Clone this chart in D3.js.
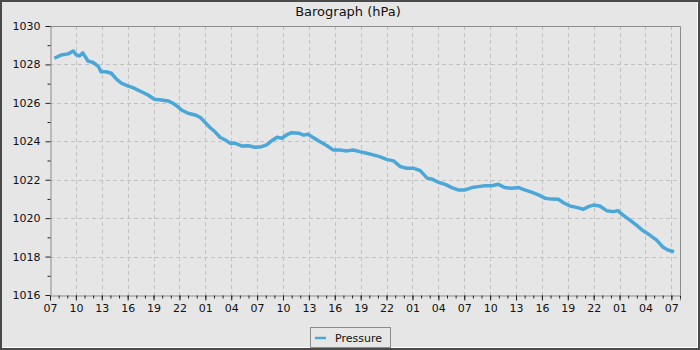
<!DOCTYPE html>
<html>
<head>
<meta charset="utf-8">
<script src="https://cdn.jsdelivr.net/npm/d3@7"></script>
<style>
  body { margin: 0; background: #e6e6e6; }
  svg { display: block; font-family: "DejaVu Sans", sans-serif; }
</style>
</head>
<body>
<div id="chart"></div>
<script>
// hours since the first 07:00 on the time axis
const hours = [0.5, 1.3, 2.1, 2.7, 3.05, 3.4, 3.8, 4.4, 5.0, 5.6, 5.9, 6.5, 7.1, 7.7, 8.3, 9.0, 9.6, 10.6, 11.35, 12.1, 12.9, 13.7, 14.25, 14.8,
  15.25, 16.0, 16.8, 17.4, 18.0, 18.5, 19.1, 19.7, 20.3, 20.9, 21.4, 22.2, 23.0, 23.75, 24.5, 25.1, 25.7, 26.3, 26.85, 27.4, 28.0, 28.8,
  29.4, 29.9, 30.5, 31.3, 32.1, 32.8, 33.6, 34.4, 35.1, 35.9, 36.7, 37.45, 38.2, 39.0, 39.8, 40.6, 41.35, 42.1, 42.9, 43.7,
  44.2, 45.0, 45.8, 46.55, 47.3, 48.1, 48.9, 49.6, 50.4, 51.2, 51.95, 52.7, 53.5, 54.3, 55.0, 55.8, 56.6, 57.4, 58.1,
  58.9, 59.5, 60.25, 61.0, 61.8, 62.4, 62.95, 63.7, 64.5, 65.3, 65.8, 66.4, 67.2, 67.95, 68.7, 69.5, 70.3, 71.05, 71.6, 72.3];
const pressure = [1028.32, 1028.49, 1028.55, 1028.7, 1028.5, 1028.44, 1028.6, 1028.18, 1028.1, 1027.9, 1027.62, 1027.62, 1027.54, 1027.23, 1027.02, 1026.88, 1026.79, 1026.58, 1026.41, 1026.19, 1026.15, 1026.1, 1025.98, 1025.8,
  1025.63, 1025.46, 1025.37, 1025.25, 1024.97, 1024.73, 1024.5, 1024.21, 1024.07, 1023.9, 1023.9, 1023.76, 1023.77, 1023.69, 1023.72, 1023.81, 1024.03, 1024.21, 1024.16, 1024.33, 1024.45, 1024.42,
  1024.32, 1024.37, 1024.19, 1023.98, 1023.77, 1023.55, 1023.55, 1023.5, 1023.55, 1023.46, 1023.38, 1023.29, 1023.2, 1023.06, 1022.98, 1022.68, 1022.6, 1022.6, 1022.47, 1022.08,
  1022.04, 1021.87, 1021.76, 1021.59, 1021.47, 1021.47, 1021.59, 1021.64, 1021.69, 1021.69, 1021.76, 1021.59, 1021.55, 1021.59, 1021.47, 1021.35, 1021.21, 1021.03, 1020.99,
  1020.98, 1020.8, 1020.63, 1020.56, 1020.46, 1020.6, 1020.68, 1020.63, 1020.39, 1020.34, 1020.39, 1020.16, 1019.9, 1019.64, 1019.35, 1019.12, 1018.86, 1018.48, 1018.34, 1018.25];
const yTicks = [1016, 1018, 1020, 1022, 1024, 1026, 1028, 1030];
const xTickHours = d3.range(0, 73, 3);   // labelled every 3 h: 07, 10, 13 ...
const chartTitle = 'Barograph (hPa)';
const seriesName = 'Pressure';

const W = 700, H = 350;
const margin = { top: 26, right: 20, bottom: 55, left: 50 };
const start = new Date(2024, 0, 1, 7, 0);
const end = d3.timeHour.offset(start, 73);

const svg = d3.select('#chart').append('svg')
  .attr('width', W)
  .attr('height', H);

// frame
svg.append('rect').attr('x', 0).attr('y', 0).attr('width', W).attr('height', H).attr('fill', '#e6e6e6');
svg.append('path').attr('d', `M2,${H - 2.5}H${W - 2.5}V2`).attr('fill', 'none').attr('stroke', '#ffffff').attr('stroke-width', 1);
svg.append('rect').attr('x', 1).attr('y', 1).attr('width', W - 2).attr('height', H - 2)
  .attr('fill', 'none').attr('stroke', '#4a4a4a').attr('stroke-width', 2);

const x = d3.scaleTime().domain([start, end]).range([margin.left, W - margin.right]);
const y = d3.scaleLinear().domain([1016, 1030]).range([H - margin.bottom, margin.top]);

const majorX = xTickHours.map(h => d3.timeHour.offset(start, h));
const minorX = d3.range(0, 74).map(h => d3.timeHour.offset(start, h));

// grid
const grid = svg.append('g').attr('stroke', '#c2c2c2').attr('stroke-dasharray', '4,3').attr('stroke-width', 1);
grid.selectAll('.gx').data(majorX.slice(1)).enter().append('line')
  .attr('x1', d => Math.round(x(d)) + 0.5).attr('x2', d => Math.round(x(d)) + 0.5)
  .attr('y1', margin.top).attr('y2', H - margin.bottom);
grid.selectAll('.gy').data(yTicks.slice(1, -1)).enter().append('line')
  .attr('y1', d => Math.round(y(d)) + 0.5).attr('y2', d => Math.round(y(d)) + 0.5)
  .attr('x1', margin.left).attr('x2', W - margin.right);

// plot border top/right
svg.append('path')
  .attr('d', `M${margin.left},${margin.top + 0.5}H${W - margin.right + 0.5}V${H - margin.bottom}`)
  .attr('fill', 'none').attr('stroke', '#8c8c8c');

// x axis
svg.append('g').attr('transform', `translate(0,${H - margin.bottom + 0.5})`)
  .call(d3.axisBottom(x).tickValues(majorX).tickFormat(d3.timeFormat('%H')).tickSize(5).tickPadding(4));
svg.append('g').attr('transform', `translate(0,${H - margin.bottom + 0.5})`)
  .call(d3.axisBottom(x).tickValues(minorX).tickFormat('').tickSize(3))
  .call(g => g.select('.domain').remove());

// y axis
svg.append('g').attr('transform', `translate(${margin.left + 0.5},0)`)
  .call(d3.axisLeft(y).tickValues(yTicks).tickFormat(d3.format('d')).tickSize(5).tickPadding(5));
svg.append('g').attr('transform', `translate(${margin.left + 0.5},0)`)
  .call(d3.axisLeft(y).tickValues(d3.range(1017, 1030, 2)).tickFormat('').tickSize(3))
  .call(g => g.select('.domain').remove());

svg.selectAll('.domain').attr('stroke', '#8c8c8c');
svg.selectAll('.tick line').attr('stroke', '#222');
svg.selectAll('.tick text').attr('font-size', '11px').attr('font-family', '"DejaVu Sans", sans-serif').attr('fill', '#111');

// pressure line
const data = hours.map((h, i) => ({ t: new Date(start.getTime() + h * 3600e3), p: pressure[i] }));
svg.append('path')
  .datum(data)
  .attr('fill', 'none')
  .attr('stroke', '#4ba7d8')
  .attr('stroke-width', 3.5)
  .attr('stroke-linejoin', 'round')
  .attr('d', d3.line().x(d => x(d.t)).y(d => y(d.p)));

// title
svg.append('text')
  .attr('x', 348).attr('y', 16)
  .attr('text-anchor', 'middle')
  .attr('font-size', '13px')
  .attr('fill', '#111')
  .text(chartTitle);

// legend
const lg = svg.append('g').attr('transform', 'translate(310,327)');
lg.append('rect').attr('x', 0.5).attr('y', 0.5).attr('width', 80).attr('height', 20)
  .attr('fill', '#e6e6e6').attr('stroke', '#8c8c8c');
lg.append('line').attr('x1', 5).attr('x2', 16).attr('y1', 11).attr('y2', 11)
  .attr('stroke', '#4ba7d8').attr('stroke-width', 2.5);
lg.append('text').attr('x', 25).attr('y', 15).attr('font-size', '11px').attr('fill', '#111').text(seriesName);
</script>
</body>
</html>
